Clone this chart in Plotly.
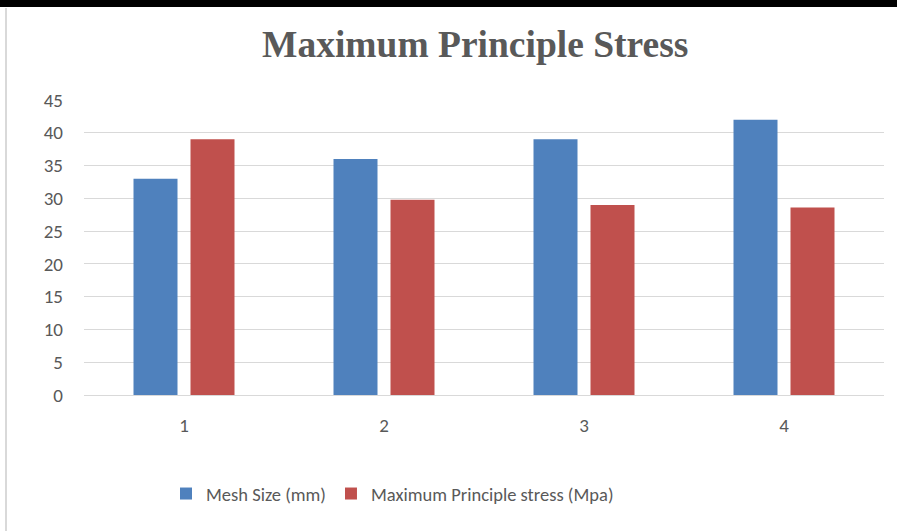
import plotly.graph_objects as go

categories = ["1", "2", "3", "4"]
mesh_size = [33, 36, 39, 42]
max_stress = [39, 29.8, 29.0, 28.6]
y_ticks = [0, 5, 10, 15, 20, 25, 30, 35, 40, 45]

W, H = 897, 531
L, R, T, B = 84, 13, 100, 136
pw, ph = W - L - R, H - T - B

def px(x):
    return (x - L) / pw

def py(y):
    return (H - B - y) / ph

FONT = "Carlito, Liberation Sans Narrow, Lato, Open Sans, sans-serif"

fig = go.Figure()
fig.add_trace(go.Bar(x=categories, y=mesh_size, name="Mesh Size (mm)",
                     marker=dict(color="#4F81BD", line=dict(width=0))))
fig.add_trace(go.Bar(x=categories, y=max_stress, name="Maximum Principle stress (Mpa)",
                     marker=dict(color="#C0504D", line=dict(width=0))))

fig.update_layout(
    width=W, height=H,
    margin=dict(l=L, r=R, t=T, b=B),
    paper_bgcolor="white", plot_bgcolor="white",
    barmode="group", bargap=0.43, bargroupgap=0.228,
    showlegend=True,
    legend=dict(orientation="h", x=px(166), xanchor="left", y=py(494), yanchor="middle",
                font=dict(family=FONT, size=18.5, color="#595959"),
                traceorder="normal", itemsizing="constant",
                bgcolor="rgba(0,0,0,0)"),
    font=dict(family=FONT, color="#595959"),
    xaxis=dict(type="category", showgrid=False, showline=True, linecolor="#D9D9D9", linewidth=1,
               ticks="", tickfont=dict(size=19, color="#595959"), ticklabelstandoff=13,
               zeroline=False),
    yaxis=dict(range=[0, 45], tickvals=y_ticks, showgrid=True, gridcolor="#D9D9D9", gridwidth=1,
               zeroline=False, showline=False, ticks="",
               tickfont=dict(size=19, color="#595959"), ticklabelstandoff=20),
    annotations=[dict(text="<b>Maximum Principle Stress</b>", xref="paper", yref="paper",
                      x=px(475), y=py(44), xanchor="center", yanchor="middle", showarrow=False,
                      font=dict(family="Liberation Serif, Times New Roman, serif", size=37.5,
                                color="#595959"))],
    shapes=[
        dict(type="rect", xref="paper", yref="paper", x0=px(0), x1=px(W), y0=py(7), y1=py(0),
             fillcolor="black", line=dict(width=0), layer="above"),
        dict(type="line", xref="paper", yref="paper", x0=px(6), x1=px(6), y0=py(8), y1=py(H),
             line=dict(color="#D9D9D9", width=2)),
    ],
)

fig.write_html("out.html", config={"displayModeBar": False},
               post_script="document.body.style.margin='0';")
